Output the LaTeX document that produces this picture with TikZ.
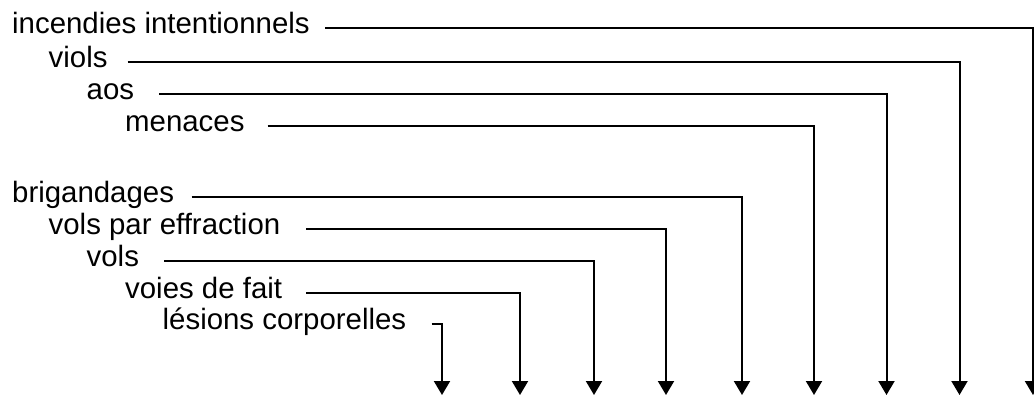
\documentclass[tikz,border=0pt]{standalone}
\usepackage{fontspec}
\setmainfont{Liberation Sans}
\usetikzlibrary{arrows.meta}
\begin{document}
\begin{tikzpicture}[x=1pt,y=-1pt,
  lbl/.style={anchor=base west,inner sep=0pt,font=\fontsize{29.4}{35}\selectfont},
  conn/.style={line width=2pt,-{Triangle[width=16pt,length=14pt]}}]
\useasboundingbox (0,0) rectangle (1034,396);
% labels
\node[lbl] (t1) at (12,33.5) {incendies intentionnels};
\node[lbl] (t2) at (48.5,67) {viols};
\node[lbl] (t3) at (86.5,99.5) {aos};
\node[lbl] (t4) at (125,131) {menaces};
\node[lbl] (t5) at (12,202) {brigandages};
\node[lbl] (t6) at (48.5,234) {vols par effraction};
\node[lbl] (t7) at (86.5,266) {vols};
\node[lbl] (t8) at (125,298) {voies de fait};
\node[lbl] (t9) at (162.5,329) {lésions corporelles};
% line starts
\coordinate (s1) at (325,28.5);
\coordinate (s2) at (127.5,61.7);
\coordinate (s3) at (159,94.3);
\coordinate (s4) at (267.5,125.5);
\coordinate (s5) at (191.5,196.7);
\coordinate (s6) at (306,229);
\coordinate (s7) at (164,261);
\coordinate (s8) at (306,293);
\coordinate (s9) at (431.5,324.3);
% arrow tips
\coordinate (e1) at (1033,395);
\coordinate (e2) at (959.5,395);
\coordinate (e3) at (886.5,395);
\coordinate (e4) at (814,395);
\coordinate (e5) at (742,395);
\coordinate (e6) at (666,395);
\coordinate (e7) at (594,395);
\coordinate (e8) at (520,395);
\coordinate (e9) at (442,395);
\foreach \i in {1,...,9}{\draw[conn] (s\i) -| (e\i);}
\end{tikzpicture}
\end{document}
